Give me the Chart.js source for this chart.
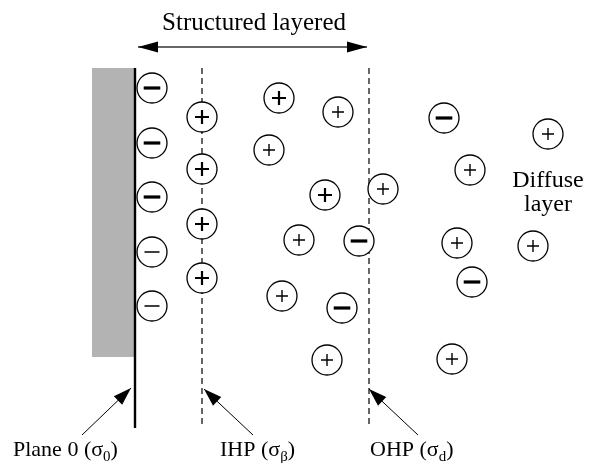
<!DOCTYPE html>
<html lang="en">
<head>
  <meta charset="UTF-8">
  <title>Electrical double layer</title>
  <script src="https://cdn.jsdelivr.net/npm/chart.js"></script>
  <style>
    html, body {
      margin: 0;
      padding: 0;
      background: #fff;
    }
    canvas {
      display: block;
    }
  </style>
</head>
<body>

  <canvas id="edlChart" width="591" height="463"></canvas>

  <script>
    // Cations (+) and anions (-) in pixel units
    const cationX = [202, 202, 202, 202, 279, 338, 269, 325, 383, 299, 282, 327, 452, 470, 548, 457, 533];
    const cationY = [117, 169, 224, 278, 98, 112, 150, 195, 189, 240, 296, 360, 359, 170, 134, 243, 246];
    const heavyCations = [0, 1, 2, 3, 4, 7];

    const anionX = [152, 152, 152, 152, 152, 359, 342, 444, 472];
    const anionY = [88, 143, 197, 252, 306, 241, 308, 118, 282];
    const heavyAnions = [0, 1, 2, 5, 6, 7, 8];

    // Planes: electrode surface (plane 0), IHP and OHP
    const planeX = [135, 202, 369];
    const planeTop = 68;
    const planeBottom = 428;

    // Electrode block
    const electrodeX = [92, 135];
    const electrodeBottom = 357;

    // Pointer arrows [tailX, tailY, tipX, tipY]
    const pointers = [
      [82, 435, 131, 388],
      [253, 435, 204, 389],
      [418, 435, 369, 389]
    ];
    // Double arrow of the structured layer
    const spanX = [138, 367];
    const spanY = 47;

    const pts = (xs, ys) => xs.map((x, i) => ({ x: x, y: ys[i] }));

    const serif = '"Liberation Serif", "Times New Roman", serif';

    const annotations = [
      { x: 254, y: 30, size: 25, align: 'center', parts: [['Structured layered']] },
      { x: 548, y: 187, size: 24, align: 'center', parts: [['Diffuse']] },
      { x: 548, y: 211, size: 24, align: 'center', parts: [['layer']] },
      { x: 13, y: 456, size: 22, align: 'left', parts: [['Plane 0 (σ'], ['0', true], [')']] },
      { x: 220, y: 456, size: 22, align: 'left', parts: [['IHP (σ'], ['β', true], [')']] },
      { x: 370, y: 456, size: 22, align: 'left', parts: [['OHP (σ'], ['d', true], [')']] }
    ];

    // text with subscripts, placed on chart scales
    const labelPlugin = {
      id: 'labels',
      afterDraw(chart) {
        const ctx = chart.ctx;
        const xs = chart.scales.x, ys = chart.scales.y;
        ctx.save();
        ctx.fillStyle = '#000';
        ctx.textBaseline = 'alphabetic';
        ctx.textAlign = 'left';
        annotations.forEach(a => {
          const widths = a.parts.map(([t, sub]) => {
            ctx.font = (sub ? a.size * 0.68 : a.size) + 'px ' + serif;
            return ctx.measureText(t).width;
          });
          const total = widths.reduce((s, w) => s + w, 0);
          let x = xs.getPixelForValue(a.x);
          if (a.align === 'center') x -= total / 2;
          const y = ys.getPixelForValue(a.y);
          a.parts.forEach(([t, sub], i) => {
            ctx.font = (sub ? a.size * 0.68 : a.size) + 'px ' + serif;
            ctx.fillText(t, x, sub ? y + a.size * 0.22 : y);
            x += widths[i];
          });
        });
        ctx.restore();
      }
    };

    // filled arrow heads at the ends of line datasets
    const arrowPlugin = {
      id: 'arrowHeads',
      afterDatasetsDraw(chart) {
        const ctx = chart.ctx;
        chart.data.datasets.forEach((ds, i) => {
          if (!ds.arrowEnds) return;
          const el = chart.getDatasetMeta(i).data;
          const head = (tip, from) => {
            const ang = Math.atan2(tip.y - from.y, tip.x - from.x);
            const len = ds.headLength, half = ds.headWidth / 2;
            ctx.beginPath();
            ctx.moveTo(tip.x, tip.y);
            ctx.lineTo(tip.x - len * Math.cos(ang) + half * Math.sin(ang),
                       tip.y - len * Math.sin(ang) - half * Math.cos(ang));
            ctx.lineTo(tip.x - len * Math.cos(ang) - half * Math.sin(ang),
                       tip.y - len * Math.sin(ang) + half * Math.cos(ang));
            ctx.closePath();
            ctx.fill();
          };
          ctx.save();
          ctx.fillStyle = '#000';
          if (ds.arrowEnds.includes('end')) head(el[el.length - 1], el[el.length - 2]);
          if (ds.arrowEnds.includes('start')) head(el[0], el[1]);
          ctx.restore();
        });
      }
    };

    const lineSet = (data, extra) => Object.assign({
      data: data,
      showLine: true,
      pointRadius: 0,
      borderColor: '#000',
      borderWidth: 1,
      fill: false,
      order: 5
    }, extra);

    const datasets = [
      // electrode block
      lineSet(pts(electrodeX, [planeTop, planeTop]), {
        borderWidth: 0,
        borderColor: 'rgba(0,0,0,0)',
        backgroundColor: '#b3b3b3',
        fill: { target: { value: electrodeBottom } },
        order: 10
      }),
      // plane 0
      lineSet(pts([planeX[0], planeX[0]], [planeTop, planeBottom]), { borderWidth: 2.4 }),
      // IHP, OHP
      lineSet(pts([planeX[1], planeX[1]], [planeTop, planeBottom]), { borderWidth: 1.2, borderDash: [6, 4] }),
      lineSet(pts([planeX[2], planeX[2]], [planeTop, planeBottom]), { borderWidth: 1.2, borderDash: [6, 4] }),
      // structured layer span
      lineSet(pts(spanX, [spanY, spanY]), {
        borderWidth: 1.5, borderColor: '#333',
        arrowEnds: ['start', 'end'], headLength: 20, headWidth: 11
      })
    ];

    pointers.forEach(p => {
      datasets.push(lineSet(pts([p[0], p[2]], [p[1], p[3]]), {
        borderWidth: 1, arrowEnds: ['end'], headLength: 18, headWidth: 12
      }));
    });

    const ionRing = (data) => ({
      data: data,
      pointStyle: 'circle',
      pointRadius: 15,
      pointBorderWidth: 1.3,
      pointBorderColor: '#000',
      pointBackgroundColor: '#fff',
      order: 2
    });

    datasets.push(ionRing(pts(cationX, cationY)));
    datasets.push(ionRing(pts(anionX, anionY)));

    // signs
    datasets.push({
      data: pts(cationX, cationY),
      pointStyle: 'cross',
      pointRadius: ctx => heavyCations.includes(ctx.dataIndex) ? 7 : 6,
      pointBorderWidth: ctx => heavyCations.includes(ctx.dataIndex) ? 2.2 : 1.4,
      pointBorderColor: '#000',
      order: 1
    });
    datasets.push({
      data: pts(anionX, anionY),
      pointStyle: 'line',
      pointRadius: ctx => heavyAnions.includes(ctx.dataIndex) ? 8.3 : 7.5,
      pointBorderWidth: ctx => heavyAnions.includes(ctx.dataIndex) ? 3.2 : 1.5,
      pointBorderColor: '#000',
      order: 1
    });

    const ctx = document.getElementById('edlChart').getContext('2d');
    new Chart(ctx, {
      type: 'scatter',
      data: { datasets: datasets },
      options: {
        responsive: false,
        animation: false,
        devicePixelRatio: 1,
        layout: { padding: 0, autoPadding: false },
        scales: {
          x: { type: 'linear', min: 0, max: 591, display: false },
          y: { type: 'linear', min: 0, max: 463, reverse: true, display: false }
        },
        plugins: {
          legend: { display: false },
          tooltip: { enabled: false }
        },
        events: []
      },
      plugins: [arrowPlugin, labelPlugin]
    });
  </script>

</body>
</html>
